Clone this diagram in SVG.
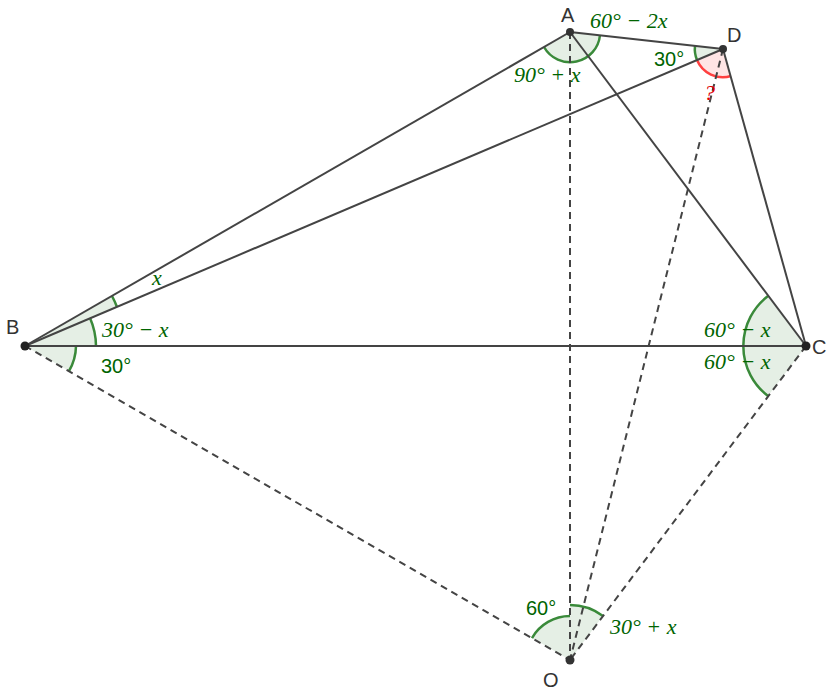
<svg xmlns="http://www.w3.org/2000/svg" width="833" height="691" viewBox="0 0 833 691">
<style>
.g{fill:#006400;fill-opacity:0.1;stroke:none}
.ga{fill:none;stroke:#3a8a3a;stroke-width:2.5}
.r{fill:#ff0000;fill-opacity:0.1;stroke:none}
.ra{fill:none;stroke:#ff4040;stroke-width:2.5}
.s{stroke:#444;stroke-width:2;fill:none}
.d{stroke:#444;stroke-width:2;fill:none;stroke-dasharray:7,5}
.t{font-family:"Liberation Serif",serif;font-style:italic;font-size:22px;fill:#006400}
.n{font-family:"Liberation Sans",sans-serif;font-size:20px;fill:#006400}
.p{font-family:"Liberation Sans",sans-serif;font-size:20px;fill:#333}
</style>
<rect width="833" height="691" fill="#fff"/>
<g id="angles">
<path class="g" d="M570,32 L544,47 A30,30 0 0 0 600,35 Z"/><path class="ga" d="M544,47 A30,30 0 0 0 600,35"/>
<path class="g" d="M723,49 L695,46 A28,28 0 0 0 697,60 Z"/><path class="ga" d="M695,46 A28,28 0 0 0 697,60"/>
<path class="r" d="M723,49 L697,60 A28,28 0 0 0 731,76 Z"/><path class="ra" d="M697,60 A28,28 0 0 0 731,76"/>
<path class="g" d="M25,346 L112,296 A100,100 0 0 1 117,307 Z"/><path class="ga" d="M112,296 A100,100 0 0 1 117,307"/>
<path class="g" d="M25,346 L90,318 A71,71 0 0 1 96,346 Z"/><path class="ga" d="M90,318 A71,71 0 0 1 96,346"/>
<path class="g" d="M25,346 L76,346 A51,51 0 0 1 69,371 Z"/><path class="ga" d="M76,346 A51,51 0 0 1 69,371"/>
<path class="g" d="M806,346 L768,296 A63,63 0 0 0 768,396 Z"/><path class="ga" d="M768,296 A63,63 0 0 0 768,396"/>
<path class="g" d="M570,660 L532,638 A44,44 0 0 1 570,616 Z"/><path class="ga" d="M532,638 A44,44 0 0 1 570,616"/>
<path class="g" d="M570,660 L570,605 A55,55 0 0 1 603,616 Z"/><path class="ga" d="M570,605 A55,55 0 0 1 603,616"/>
</g>
<g id="connectors">
<line class="s" x1="570" y1="32" x2="25" y2="346"/>
<line class="s" x1="570" y1="32" x2="806" y2="346"/>
<line class="s" x1="570" y1="32" x2="723" y2="49"/>
<line class="s" x1="723" y1="49" x2="25" y2="346"/>
<line class="s" x1="723" y1="49" x2="806" y2="346"/>
<line class="s" x1="25" y1="346" x2="806" y2="346"/>
<line class="d" x1="570" y1="32" x2="570" y2="660"/>
<line class="d" x1="723" y1="49" x2="570" y2="660"/>
<line class="d" x1="25" y1="346" x2="570" y2="660"/>
<line class="d" x1="806" y1="346" x2="570" y2="660"/>
</g>
<g id="A"><circle cx="570" cy="32" r="4" fill="#333"/><text class="p" x="561" y="22">A</text></g>
<g id="D"><circle cx="723" cy="49" r="4" fill="#333"/><text class="p" x="727" y="42">D</text></g>
<g id="B"><circle cx="25" cy="346" r="4.5" fill="#222"/><text class="p" x="6" y="334">B</text></g>
<g id="C"><circle cx="806" cy="346" r="4.5" fill="#222"/><text class="p" x="812" y="354">C</text></g>
<g id="O"><circle cx="570" cy="660" r="4.5" fill="#333"/><text class="p" x="543" y="687">O</text></g>
<g id="labels">
<text class="t" x="590" y="28">60° − 2<tspan>x</tspan></text>
<text class="t" x="514" y="82">90° + x</text>
<text class="n" x="654" y="66">30°</text>
<text class="t" x="704" y="100" fill="#ff0000" style="fill:#e00000">?</text>
<text class="t" x="152" y="285">x</text>
<text class="t" x="102" y="337">30° − x</text>
<text class="n" x="101" y="373">30°</text>
<text class="t" x="704" y="337">60° − x</text>
<text class="t" x="704" y="369">60° − x</text>
<text class="n" x="526" y="615">60°</text>
<text class="t" x="610" y="634">30° + x</text>
</g>
</svg>
